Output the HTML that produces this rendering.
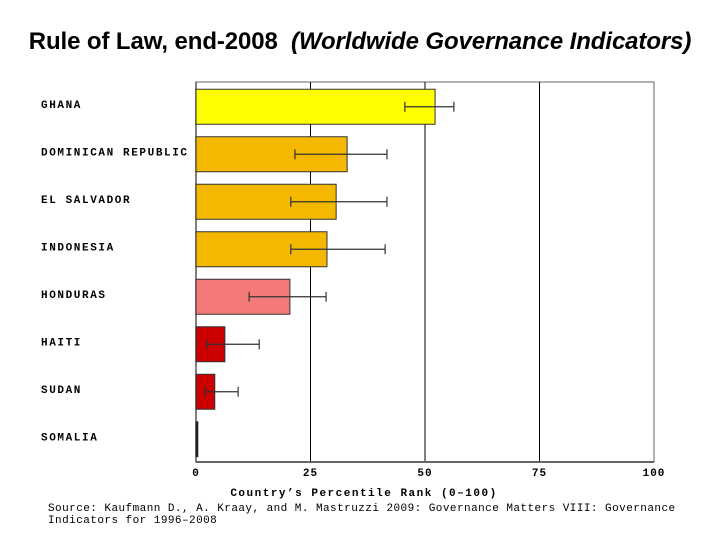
<!DOCTYPE html>
<html><head><meta charset="utf-8"><style>
body{margin:0;width:720px;height:540px;background:#fff;overflow:hidden;position:relative}
.title{position:absolute;left:0;top:28px;width:720px;text-align:center;font-family:"Liberation Sans",sans-serif;font-weight:bold;font-size:24px;color:#000;letter-spacing:-0.1px}
.src{position:absolute;left:48px;top:503px;font-family:"Liberation Mono",monospace;font-size:11px;line-height:12px;color:#000;letter-spacing:0.45px}
svg{position:absolute;left:0;top:0}
</style></head><body>
<div class="title">Rule of Law, end-2008&nbsp; <i>(Worldwide Governance Indicators)</i></div>
<svg id="chart" width="720" height="540"></svg>
<div class="src">Source: Kaufmann D., A. Kraay, and M. Mastruzzi 2009: Governance Matters VIII: Governance<br>Indicators for 1996–2008</div>
<script>
const countries=["GHANA","DOMINICAN REPUBLIC","EL SALVADOR","INDONESIA","HONDURAS","HAITI","SUDAN","SOMALIA"];
const values=[52.2,33.0,30.6,28.6,20.5,6.3,4.1,0.4];
const errLow=[45.6,21.6,20.7,20.7,11.6,2.4,2.0,null];
const errHigh=[56.3,41.7,41.7,41.3,28.4,13.8,9.2,null];
const colors=["#ffff00","#f5b800","#f5b800","#f5b800","#f47a7a","#cc0000","#cc0000","#000000"];
const ticks=[0,25,50,75,100];
const NS="http://www.w3.org/2000/svg";
const svg=document.getElementById('chart');
const x0=196,x1=654,yTop=82,yBase=462;
const xs=v=>x0+(v/100)*(x1-x0);
const band=(yBase-yTop)/countries.length;
const yc=i=>yTop+band*(i+0.5)+1;
function mk(t,a){const e=document.createElementNS(NS,t);for(const k in a)e.setAttribute(k,a[k]);svg.appendChild(e);return e;}
const fr=mk('rect',{x:x0,y:yTop,width:x1-x0,height:yBase-yTop,fill:'none',stroke:'#999','stroke-width':1.5});


ticks.forEach(t=>{
  if(t>0&&t<100){const g=mk('line',{x1:xs(t),x2:xs(t),y1:yTop,y2:yBase,stroke:'#000','stroke-width':1});
  
  }
  const l=mk('text',{x:xs(t),y:yBase+14,'text-anchor':'middle','font-family':'Liberation Mono, monospace','font-weight':'bold','font-size':11,'letter-spacing':1});
  l.textContent=t;
  
  
});
const ax=mk('line',{x1:x0,x2:x1,y1:yBase,y2:yBase,stroke:'#666','stroke-width':2});


const ay=mk('line',{x1:x0,x2:x0,y1:yTop,y2:yBase,stroke:'#666','stroke-width':1.5});


countries.forEach((c,i)=>{
  const y=yc(i),h=35;
  const r=mk('rect',{x:x0,y:y-h/2,width:Math.max(xs(values[i])-x0,1.5),height:h,fill:colors[i],stroke:'#333','stroke-width':1});
  
  
  const t=mk('text',{x:41,y:y+1,'font-family':'Liberation Mono, monospace','font-weight':'bold','font-size':11,'letter-spacing':1.6});
  t.textContent=c;
  
  
  if(errLow[i]!=null){
    const a=xs(errLow[i]),b=xs(errHigh[i]);
    const e=mk('path',{d:`M${a},${y}H${b}M${a},${y-5}V${y+5}M${b},${y-5}V${y+5}`,stroke:'#333','stroke-width':1.2,fill:'none'});
    
    
  }
});
const xt=mk('text',{x:364,y:496,'text-anchor':'middle','font-family':'Liberation Mono, monospace','font-weight':'bold','font-size':11,'letter-spacing':1.5});
xt.textContent="Country’s Percentile Rank (0–100)";


</script>
</body></html>
